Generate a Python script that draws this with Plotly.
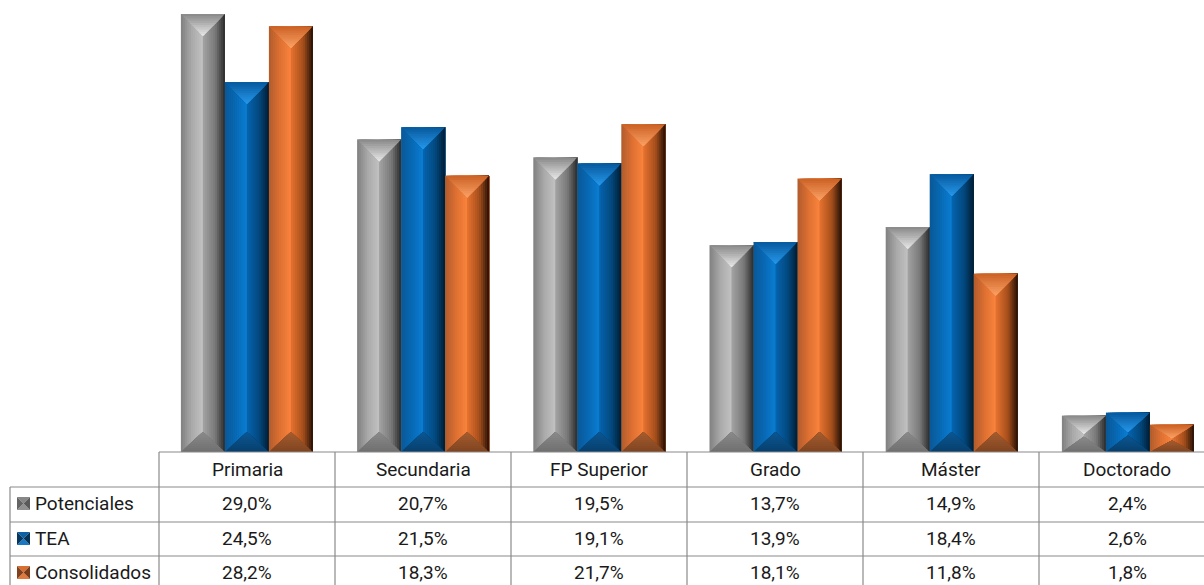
import plotly.graph_objects as go

categories = ["Primaria", "Secundaria", "FP Superior", "Grado", "Máster", "Doctorado"]
series_names = ["Potenciales", "TEA", "Consolidados"]
potenciales = [29.0, 20.7, 19.5, 13.7, 14.9, 2.4]
tea = [24.5, 21.5, 19.1, 13.9, 18.4, 2.6]
consolidados = [28.2, 18.3, 21.7, 18.1, 11.8, 1.8]
all_values = [potenciales, tea, consolidados]

W, H = 1204, 585
BASE_Y = 452.0
PX_PER_UNIT = 15.1
CAT_W = 176.2
X0 = 158.8
BAR_PX = 44.0

x_range = [-0.5 - X0 / CAT_W, -0.5 + (W - X0) / CAT_W]
y_range = [(BASE_Y - H) / PX_PER_UNIT, BASE_Y / PX_PER_UNIT]
dx = 1 / CAT_W
dy = 1 / PX_PER_UNIT

# (position, rgb) stops across bar width
BODY = [
    [(0, (128, 128, 128)), (.25, (170, 170, 170)), (.48, (192, 192, 192)), (.52, (160, 160, 160)), (.78, (120, 120, 120)), (1, (42, 42, 42))],
    [(0, (10, 88, 150)), (.25, (8, 105, 180)), (.48, (10, 124, 208)), (.52, (5, 98, 172)), (.78, (3, 72, 126)), (1, (0, 28, 50))],
    [(0, (176, 92, 44)), (.25, (222, 112, 50)), (.48, (248, 130, 60)), (.52, (226, 112, 46)), (.78, (165, 78, 28)), (1, (36, 16, 6))],
]
TOP_OUT = [(140, 140, 140), (8, 92, 160), (205, 100, 40)]
TOP_IN = [(238, 238, 238), (40, 155, 240), (255, 165, 105)]
BOT_OUT = [(112, 112, 112), (6, 64, 110), (128, 68, 32)]
BOT_IN = [(140, 140, 140), (12, 88, 148), (168, 94, 48)]
SWATCH = [
    dict(top=(135, 135, 135), bottom=(145, 145, 145), left=(100, 100, 100), right=(90, 90, 90)),
    dict(top=(10, 95, 165), bottom=(25, 120, 195), left=(5, 55, 95), right=(4, 50, 85)),
    dict(top=(215, 110, 50), bottom=(225, 120, 60), left=(130, 65, 28), right=(120, 60, 25)),
]


def lerp(a, b, t):
    return tuple(round(a[i] + (b[i] - a[i]) * t) for i in range(3))


def css(c):
    return f"rgb({c[0]},{c[1]},{c[2]})"


def grad(stops, t):
    for (p0, c0), (p1, c1) in zip(stops, stops[1:]):
        if t <= p1:
            return lerp(c0, c1, (t - p0) / (p1 - p0))
    return stops[-1][1]


fig = go.Figure()
STRIPS = 22
LEVELS = 10

for s, vals in enumerate(all_values):
    xs, ys, cols, widths = [], [], [], []
    left_off = (s - 1.5) * BAR_PX * dx
    for c, v in enumerate(vals):
        for k in range(STRIPS):
            t0 = k / STRIPS
            w = (1 - t0) * BAR_PX * dx
            xs.append(c + left_off + t0 * BAR_PX * dx + w / 2)
            ys.append(v)
            widths.append(w)
            cols.append(css(grad(BODY[s], (k + .5) / STRIPS)))
    fig.add_trace(go.Bar(x=xs, y=ys, width=widths,
                         marker=dict(color=cols, line_width=0),
                         showlegend=False, hoverinfo="skip"))

# bevels, nested polygons derived from the values
for s, vals in enumerate(all_values):
    left_off = (s - 1.5) * BAR_PX * dx
    for lev in range(LEVELS):
        f = lev / LEVELS
        xt, yt, xb, yb = [], [], [], []
        for c, v in enumerate(vals):
            h = v * PX_PER_UNIT
            l = c + left_off
            r = l + BAR_PX * dx
            m = (l + r) / 2
            d_top = min(22, h * .5)
            d_bot = min(20, h * .42)
            wf = 1 - f
            y_f = v - f * d_top * dy
            hw = (r - l) / 2 * wf
            xt += [m - hw, m + hw, m, None]
            yt += [y_f, y_f, v - d_top * dy, None]
            y_b = f * d_bot * dy
            xb += [m - hw, m + hw, m, None]
            yb += [y_b, y_b, d_bot * dy, None]
        fig.add_trace(go.Scatter(x=xt, y=yt, mode="lines", fill="toself", line_width=0,
                                 fillcolor=css(lerp(TOP_OUT[s], TOP_IN[s], f)),
                                 showlegend=False, hoverinfo="skip"))
        fig.add_trace(go.Scatter(x=xb, y=yb, mode="lines", fill="toself", line_width=0,
                                 fillcolor=css(lerp(BOT_OUT[s], BOT_IN[s], f)),
                                 showlegend=False, hoverinfo="skip"))

# table
LINE = dict(color="#8a8a8a", width=1.2)
FONT = dict(family="Roboto, Open Sans, sans-serif", size=19, color="#1a1a1a")
ROW_Y = [452, 487, 522, 556]
COL_X = [159, 335, 511, 687, 863, 1039]
TEXT_X = [247, 423, 599, 775, 951, 1127]
shapes = []
for i, y in enumerate(ROW_Y):
    shapes.append(dict(type="line", xref="paper", yref="paper", x0=(10 if i else 159) / W, x1=1,
                       y0=1 - y / H, y1=1 - y / H, line=LINE, layer="above"))
for x in COL_X:
    shapes.append(dict(type="line", xref="paper", yref="paper", x0=x / W, x1=x / W,
                       y0=0, y1=1 - 452 / H, line=LINE, layer="above"))
shapes.append(dict(type="line", xref="paper", yref="paper", x0=10 / W, x1=10 / W, y0=0,
                   y1=1 - 487 / H, line=LINE))

SW_Y = [497, 532, 566]


def P(pts):
    return "M" + " L".join(f"{px / W:.5f},{1 - py / H:.5f}" for px, py in pts) + " Z"


for i in range(3):
    x0, x1, y0, y1 = 17, 30, SW_Y[i], SW_Y[i] + 13
    mx, my = (x0 + x1) / 2, (y0 + y1) / 2
    tri = [
        ([(x0, y0), (x1, y0), (mx, my)], SWATCH[i]["top"]),
        ([(x0, y1), (x1, y1), (mx, my)], SWATCH[i]["bottom"]),
        ([(x0, y0), (x0, y1), (mx, my)], SWATCH[i]["left"]),
        ([(x1, y0), (x1, y1), (mx, my)], SWATCH[i]["right"]),
    ]
    for pts, col in tri:
        shapes.append(dict(type="path", xref="paper", yref="paper", path=P(pts),
                           fillcolor=css(col), line_width=0))

ann = []


def text(px, py, t, anchor="center"):
    ann.append(dict(xref="paper", yref="paper", x=px / W, y=1 - py / H, text=t, showarrow=False,
                    font=FONT, xanchor=anchor, yanchor="middle"))


for tx, name in zip(TEXT_X, categories):
    text(tx, 469, name)
for r, (name, vals) in enumerate(zip(series_names, all_values)):
    yy = [503, 538, 572][r]
    text(33, yy, name, "left")
    for tx, v in zip(TEXT_X, vals):
        text(tx, yy, f"{v:.1f}%".replace(".", ","))

fig.update_layout(
    width=W, height=H, margin=dict(l=0, r=0, t=0, b=0),
    paper_bgcolor="white", plot_bgcolor="white", barmode="overlay", showlegend=False,
    xaxis=dict(range=x_range, visible=False, fixedrange=True),
    yaxis=dict(range=y_range, visible=False, fixedrange=True),
    shapes=shapes, annotations=ann,
)
fig.write_html("out.html", config=dict(displayModeBar=False),
               post_script="document.body.style.margin='0';")
